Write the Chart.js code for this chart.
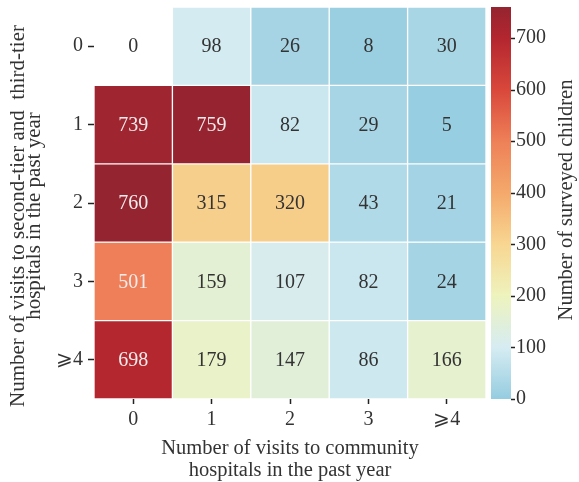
<!DOCTYPE html>
<html>
<head>
<meta charset="utf-8">
<script src="https://cdn.jsdelivr.net/npm/chart.js@4/dist/chart.umd.min.js"></script>
<style>
  html, body { margin: 0; padding: 0; background: #ffffff; }
  #wrap { width: 579px; height: 482px; }
</style>
</head>
<body>
<div id="wrap"><canvas id="heat" width="579" height="482"></canvas></div>
<script>
// Visits to second-tier / third-tier hospitals (rows) and to community hospitals (columns)
const rowLabels = ['0', '1', '2', '3', '\u2A7E4'];
const colLabels = ['0', '1', '2', '3', '\u2A7E4'];

// Number of surveyed children in each cell, one array per row
const rowVisits0 = [0, 98, 26, 8, 30];
const rowVisits1 = [739, 759, 82, 29, 5];
const rowVisits2 = [760, 315, 320, 43, 21];
const rowVisits3 = [501, 159, 107, 82, 24];
const rowVisits4 = [698, 179, 147, 86, 166];
const counts = [rowVisits0, rowVisits1, rowVisits2, rowVisits3, rowVisits4];

// Colour bar range and tick step
const scaleMin = 0;
const scaleMax = 760;
const scaleStep = 100;

// Colour ramp: light blue -> pale yellow -> orange -> dark red
const rampStops = [
  [0,   '#95cce0'],
  [100, '#d6ecf2'],
  [200, '#eef3bd'],
  [300, '#f8d692'],
  [400, '#f4a96b'],
  [500, '#ee8058'],
  [600, '#d9473b'],
  [700, '#b3262f'],
  [760, '#942430']
];

const FONT = "'Liberation Serif', 'Times New Roman', 'DejaVu Serif', serif";
const INK = '#333333';
const Y_TITLE = ['Number of visits to second-tier and  third-tier', 'hospitals in the past year'];
const CB_TITLE = 'Number of surveyed children';

function hexToRgb(h) {
  const n = parseInt(h.slice(1), 16);
  return [(n >> 16) & 255, (n >> 8) & 255, n & 255];
}
function rampColor(v) {
  if (v <= rampStops[0][0]) return rampStops[0][1];
  for (let i = 1; i < rampStops.length; i++) {
    const [v1, c1] = rampStops[i];
    if (v <= v1) {
      const [v0, c0] = rampStops[i - 1];
      const t = (v - v0) / (v1 - v0);
      const a = hexToRgb(c0), b = hexToRgb(c1);
      const m = a.map((x, k) => Math.round(x + (b[k] - x) * t));
      return 'rgb(' + m.join(',') + ')';
    }
  }
  return rampStops[rampStops.length - 1][1];
}
// an empty cell (no children) is left unfilled
function cellColor(v) {
  return v === 0 ? 'rgba(255,255,255,0)' : rampColor(v);
}

// one floating-bar dataset per row; each bar spans [row, row + 1] on the y scale
const datasets = counts.map((row, i) => ({
  label: rowLabels[i],
  data: row.map(() => [i, i + 1]),
  counts: row,
  backgroundColor: row.map(cellColor),
  borderColor: '#ffffff',
  borderWidth: 1,
  borderSkipped: false,
  barPercentage: 1,
  categoryPercentage: 1,
  grouped: false
}));

// cell value labels
const cellLabels = {
  id: 'cellLabels',
  afterDatasetsDraw(chart) {
    const ctx = chart.ctx;
    ctx.save();
    ctx.font = '20px ' + FONT;
    ctx.textAlign = 'center';
    ctx.textBaseline = 'middle';
    chart.data.datasets.forEach((ds, i) => {
      const meta = chart.getDatasetMeta(i);
      meta.data.forEach((bar, j) => {
        const v = ds.counts[j];
        const p = bar.getCenterPoint();
        ctx.fillStyle = v >= 450 ? '#f4ecec' : INK;
        ctx.fillText(String(v), p.x, p.y + 1);
      });
    });
    ctx.restore();
  }
};

// y axis title (two lines, reading upwards)
const rowTitle = {
  id: 'rowTitle',
  afterDraw(chart) {
    const ctx = chart.ctx;
    const y = chart.scales.y;
    ctx.save();
    ctx.translate(y.left, (y.top + y.bottom) / 2 + 13);
    ctx.rotate(-Math.PI / 2);
    ctx.font = '21px ' + FONT;
    ctx.fillStyle = INK;
    ctx.textAlign = 'center';
    ctx.textBaseline = 'middle';
    ctx.fillText(Y_TITLE[0], 0, 18.5);
    ctx.fillText(Y_TITLE[1], 0, 34);
    ctx.restore();
  }
};

// colour bar drawn against the 'cb' scale
const colorBar = {
  id: 'colorBar',
  afterDraw(chart) {
    const cb = chart.scales.cb;
    const ctx = chart.ctx;
    const x0 = cb.left + 5, w = 20;
    const yTop = cb.getPixelForValue(scaleMax);
    const yBot = cb.getPixelForValue(scaleMin);
    const g = ctx.createLinearGradient(0, yBot, 0, yTop);
    rampStops.forEach(([v, c]) => g.addColorStop((v - scaleMin) / (scaleMax - scaleMin), c));
    ctx.save();
    ctx.fillStyle = g;
    ctx.fillRect(x0, yTop, w, yBot - yTop);
    ctx.strokeStyle = '#222222';
    ctx.lineWidth = 1.5;
    cb.ticks.forEach(t => {
      const y = Math.round(cb.getPixelForValue(t.value)) + 0.5;
      ctx.beginPath();
      ctx.moveTo(x0 + w, y);
      ctx.lineTo(x0 + w + 4, y);
      ctx.stroke();
    });
    ctx.translate(cb.left + 81, (yTop + yBot) / 2 - 3);
    ctx.rotate(-Math.PI / 2);
    ctx.font = '20.5px ' + FONT;
    ctx.fillStyle = INK;
    ctx.textAlign = 'center';
    ctx.textBaseline = 'middle';
    ctx.fillText(CB_TITLE, 0, 0);
    ctx.restore();
  }
};

// scales keep the plot box fixed; no extra room for overhanging labels
function noOverhang(s) {
  s.paddingTop = 0; s.paddingBottom = 0; s.paddingLeft = 0; s.paddingRight = 0;
}

new Chart(document.getElementById('heat'), {
  type: 'bar',
  data: { labels: colLabels, datasets },
  plugins: [cellLabels, rowTitle, colorBar],
  options: {
    responsive: false,
    animation: false,
    layout: { padding: { top: 7, left: 0, right: 0, bottom: 0 } },
    plugins: { legend: { display: false }, tooltip: { enabled: false } },
    scales: {
      x: {
        type: 'category',
        offset: true,
        grid: { offset: false, drawOnChartArea: false, tickLength: 5, tickColor: '#222', tickWidth: 1.5 },
        border: { display: false },
        ticks: { color: INK, font: { family: FONT, size: 20 }, padding: 4 },
        title: {
          display: true,
          text: ['Number of visits to community', 'hospitals in the past year'],
          color: INK,
          font: { family: FONT, size: 20.5, lineHeight: 1.1 },
          padding: { top: 0, bottom: 0 }
        },
        afterFit(s) { s.height = 83; noOverhang(s); }
      },
      y: {
        type: 'linear',
        reverse: true,
        min: 0,
        max: 5,
        afterBuildTicks(s) { s.ticks = rowLabels.map((_, i) => ({ value: i + 0.5 })); },
        grid: { drawOnChartArea: false, tickLength: 6, tickColor: '#222', tickWidth: 1.5 },
        border: { display: false },
        ticks: {
          color: INK,
          font: { family: FONT, size: 20 },
          padding: 5,
          callback: v => rowLabels[Math.floor(v)]
        },
        afterFit(s) { s.width = 94; noOverhang(s); }
      },
      cb: {
        type: 'linear',
        position: 'right',
        min: scaleMin,
        max: scaleMax,
        grid: { drawOnChartArea: false, drawTicks: false },
        border: { display: false },
        ticks: {
          stepSize: scaleStep,
          includeBounds: false,
          color: INK,
          font: { family: FONT, size: 20 },
          padding: 30
        },
        afterFit(s) { s.width = 93; noOverhang(s); }
      }
    }
  }
});
</script>
</body>
</html>
